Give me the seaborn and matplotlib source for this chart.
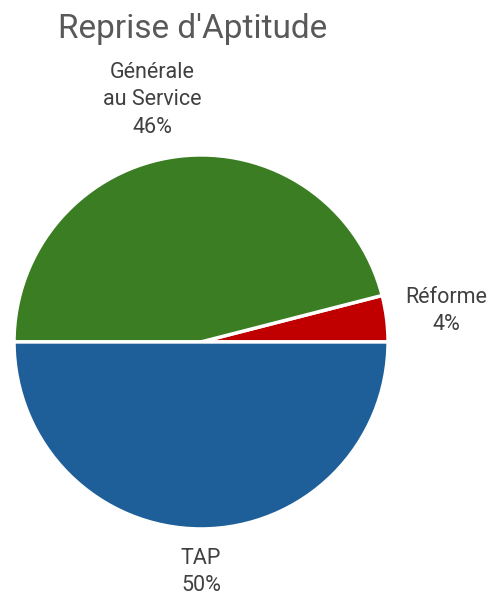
#Script for the "Reprise d'Aptitude" pie chart

import numpy as np
import matplotlib
matplotlib.use("Agg")
import matplotlib.pyplot as plt
import seaborn as sns

# data
categories = ["Réforme", "Générale\nau Service", "TAP"]
values = [4, 46, 50]
colors = ["#C00000", "#3A7D22", "#1F5F99"]
title = "Reprise d'Aptitude"

# label placement: distance from the centre (radii) and angle shift (deg)
label_dist = [1.32, 1.32, 1.23]
label_shift = [0, 4.2, 0]


def draw_pie():
    sns.set_theme(style="white")
    plt.rcParams['font.family'] = ['Roboto', 'DejaVu Sans']

    fig = plt.figure(figsize=(4.89, 5.95), dpi=100)
    ax = fig.add_axes([0.0286, 0.111, 0.765, 0.6286])

    wedges, _ = ax.pie(
        values,
        colors=sns.color_palette(colors),
        startangle=0,
        counterclock=True,
        wedgeprops=dict(edgecolor="white", linewidth=2.5),
    )
    ax.set_xlim(-1, 1)
    ax.set_ylim(-1, 1)
    ax.set_aspect("equal")

    total = sum(values)
    for w, cat, val, d, s in zip(wedges, categories, values, label_dist, label_shift):
        ang = np.deg2rad((w.theta1 + w.theta2) / 2 + s)
        ax.text(d * np.cos(ang), d * np.sin(ang),
                f"{cat}\n{val / total:.0%}",
                ha="center", va="center", fontsize=15.5,
                color="#404040", linespacing=1.4, clip_on=False)

    fig.text(0.394, 0.951, title, ha="center", va="center",
             fontsize=24, color="#595959")

    fig.savefig("out.png", dpi=100)


if __name__ == "__main__":
    draw_pie()
